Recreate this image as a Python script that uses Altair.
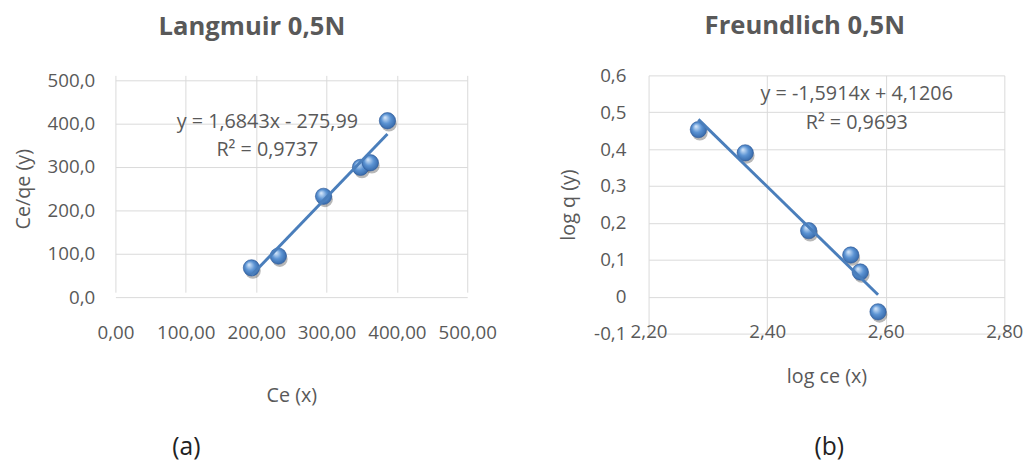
import altair as alt
import pandas as pd

# ---------------- data ----------------
# Langmuir 0,5N
ce = [193.3, 231.5, 295.8, 348.3, 362.3, 386.6]
ce_qe = [67.5, 94.7, 232.5, 299.2, 309.8, 406.8]
# Freundlich 0,5N
log_ce = [2.284, 2.363, 2.470, 2.541, 2.557, 2.587]
log_q = [0.453, 0.390, 0.179, 0.113, 0.067, -0.041]

eq_a = ["y = 1,6843x - 275,99", "R² = 0,9737"]
eq_a_x = [216, 216]
eq_a_y = [403, 339]
eq_b = ["y = -1,5914x + 4,1206", "R² = 0,9693"]
eq_b_x = [2.551, 2.551]
eq_b_y = [0.548, 0.472]

ticks_a_x = [0, 100, 200, 300, 400, 500]
ticks_a_y = [0, 100, 200, 300, 400, 500]
ticks_b_x = [2.2, 2.4, 2.6, 2.8]
ticks_b_y = [-0.1, 0, 0.1, 0.2, 0.3, 0.4, 0.5, 0.6]

FONT = "Open Sans"
GREY = "#595959"
GRID = "#D9D9D9"
LINE = "#4A7EBB"

sphere = alt.Gradient(
    gradient="radial",
    stops=[
        alt.GradientStop(color="#d4e6fa", offset=0),
        alt.GradientStop(color="#5b93d3", offset=0.45),
        alt.GradientStop(color="#2a5b9c", offset=1),
    ],
    x1=0.35, y1=0.3, r1=0.02, x2=0.5, y2=0.5, r2=0.62,
)


def axis(values, expr, title, **kw):
    base = dict(
        values=values, labelExpr=expr, title=title, grid=True, gridColor=GRID,
        gridWidth=1, domain=False, ticks=False, tickSize=0, labelFont=FONT,
        labelFontSize=19, labelColor=GREY, labelFlush=False, labelOverlap=False,
        labelBound=False, titleFont=FONT, titleFontSize=20, titleColor=GREY,
        titleFontWeight="normal",
    )
    base.update(kw)
    return alt.Axis(**base)


def panel(xs, ys, eqx, eqy, eqt, xcol, ycol, xdom, ydom, xaxis, yaxis, w, h, title,
          yrange=None):
    df = pd.DataFrame({xcol: xs, ycol: ys})
    tdf = pd.DataFrame({xcol: eqx, ycol: eqy, "label": eqt})
    X = alt.X(f"{xcol}:Q", scale=alt.Scale(domain=xdom, nice=False, zero=False), axis=xaxis)
    yscale = dict(domain=ydom, nice=False, zero=False)
    if yrange is not None:
        yscale["range"] = yrange
    Y = alt.Y(f"{ycol}:Q", scale=alt.Scale(**yscale), axis=yaxis)
    shadow = alt.Chart(df).mark_point(
        filled=True, size=255, color="#333333", opacity=0.35, xOffset=1.5, yOffset=3
    ).encode(x=X, y=Y)
    pts = alt.Chart(df).mark_point(
        filled=True, size=275, fill=sphere, opacity=1, stroke="#2b5797", strokeWidth=0.6
    ).encode(x=X, y=Y)
    line = alt.Chart(df).transform_regression(xcol, ycol).mark_line(
        color=LINE, strokeWidth=3
    ).encode(x=X, y=Y)
    txt = alt.Chart(tdf).mark_text(
        font=FONT, fontSize=20, color=GREY, align="center", baseline="middle"
    ).encode(x=X, y=Y, text="label:N")
    return alt.layer(shadow, pts, line, txt).properties(width=w, height=h, title=title)


left = panel(
    ce, ce_qe, eq_a_x, eq_a_y, eq_a, "Ce", "Ce_qe", [0, 500], [0, 500],
    axis(ticks_a_x, "replace(format(datum.value, '.2f'), '.', ',')", "Ce (x)",
         labelBaseline="middle", labelPadding=36, titlePadding=44),
    axis(ticks_a_y, "replace(format(datum.value, '.1f'), '.', ',')", "Ce/qe (y)",
         labelPadding=21, titlePadding=14),
    357, 225,
    alt.Title("Langmuir 0,5N", font=FONT, fontSize=26, fontWeight="bold", color=GREY,
              anchor="middle", dx=-40, offset=32),
    yrange=[225, 5],
)

right = panel(
    log_ce, log_q, eq_b_x, eq_b_y, eq_b, "logce", "logq", [2.2, 2.8], [-0.1, 0.6],
    axis(ticks_b_x, "replace(format(datum.value, '.2f'), '.', ',')", "log ce (x)",
         labelBaseline="middle", labelPadding=-2, titlePadding=26),
    axis(ticks_b_y, "replace(toString(datum.value), '.', ',')", "log q (y)",
         labelPadding=23, titlePadding=15),
    361, 262,
    alt.Title("Freundlich 0,5N", font=FONT, fontSize=26, fontWeight="bold", color=GREY,
              anchor="middle", dx=-22, offset=28),
)

cap_a = alt.vconcat(left).properties(
    title=alt.Title("(a)", orient="bottom", anchor="start", frame="bounds", dx=161,
                    offset=30, baseline="top", font=FONT, fontSize=25,
                    fontWeight="normal", color="#222222")
)
cap_b = alt.vconcat(right).properties(
    title=alt.Title("(b)", orient="bottom", anchor="start", frame="bounds", dx=259,
                    offset=49, baseline="top", font=FONT, fontSize=25,
                    fontWeight="normal", color="#222222")
)

chart = alt.concat(cap_a, cap_b, columns=2, spacing=63, align="none").properties(
    padding={"top": 2, "left": 5, "right": 5, "bottom": 5}
).configure_view(stroke=None)

chart.save("out.html", embed_options={"renderer": "svg", "actions": False})
